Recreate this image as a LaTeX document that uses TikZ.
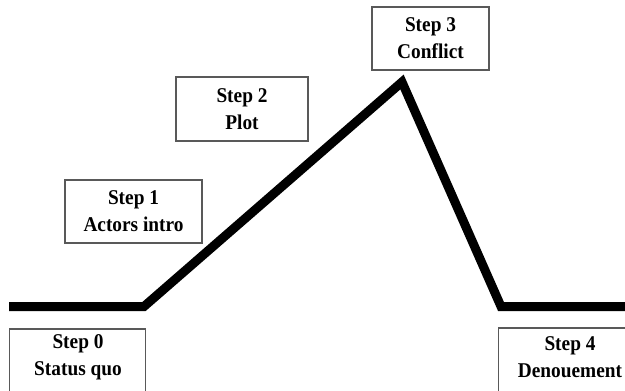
\documentclass[tikz,border=0pt]{standalone}
\usepackage{fontspec}
\setmainfont{Liberation Serif}[FakeStretch=0.92]
\begin{document}
\begin{tikzpicture}[x=1pt,y=-1pt,
  frame/.style={draw=black!65, line width=1.1pt},
  boxtxt/.style={font=\fontsize{21}{27}\selectfont\bfseries, align=center, inner sep=0pt},
  stepbox/.style={boxtxt, frame, rectangle},
  arc/.style={line width=9pt, line join=miter, miter limit=10}]
\useasboundingbox (0,0) rectangle (625,391);
\clip (0,0) rectangle (625,391);
\fill[white] (0,0) rectangle (625,391);
% plot line
\coordinate (a0) at (9,306.5);
\coordinate (a1) at (144,306.5);
\coordinate (a2) at (402,82);
\coordinate (a3) at (501,306.5);
\coordinate (a4) at (630,306.5);
\draw[arc] (a0) -- (a1) -- (a2) -- (a3) -- (a4);
% boxes
\node[stepbox, minimum width=137pt, minimum height=63pt] (s1) at (133.5,211.5) {Step 1\\Actors intro};
\node[stepbox, minimum width=132pt, minimum height=64pt] (s2) at (242,109) {Step 2\\Plot};
\node[stepbox, minimum width=117pt, minimum height=63pt] (s3) at (430.5,38.5) {Step 3\\Conflict};
\node[boxtxt, minimum width=137pt] (s0) at (78,357.5) {Step 0\\Status quo};
\node[boxtxt] (s4) at (570,357) {Step 4\\Denouement};
\draw[frame] (9.5,400) |- (145.5,329) -- (145.5,400);
\draw[frame] (498.5,400) |- (640,328);
\end{tikzpicture}
\end{document}
